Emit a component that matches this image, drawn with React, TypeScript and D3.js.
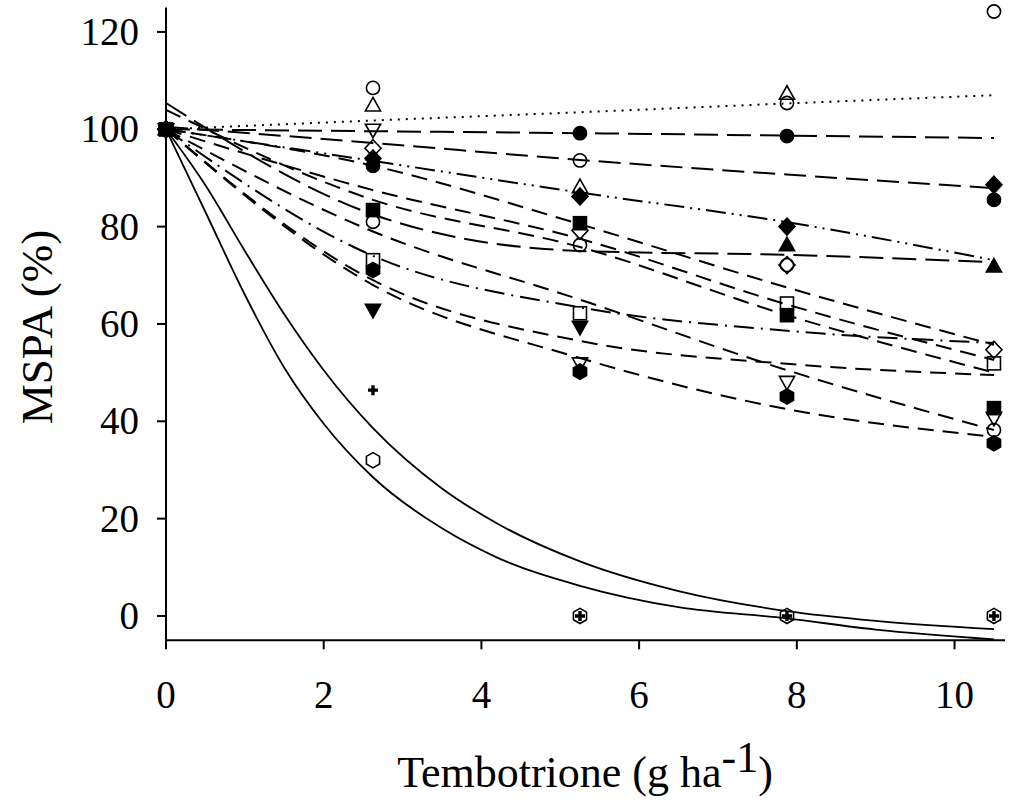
import React from 'react';
import * as d3 from 'd3';

// ---- data ----
const doses = [0, 2.625, 5.25, 7.875, 10.5];
const xTicks = [0, 2, 4, 6, 8, 10];
const yTicks = [0, 20, 40, 60, 80, 100, 120];

// observed values (null = not visible)
const obsOpenCircle = [100, 108.5, 93.6, 105.4, 124.2];
const obsOpenTriUp = [100, 104.9, 88.1, 107.3, null];
const obsFilledCircle = [100, 92.5, 99.2, 98.6, 85.5];
const obsFilledDiamond = [100, 94, 86.2, 80, 88.6];
const obsFilledTriUp = [100, null, null, 76.2, 71.8];
const obsOpenDiamond = [100, 96.1, 79.2, 72.1, 54.7];
const obsOpenSquare = [100, 73.1, 62.2, 64.2, 51.9];
const obsFilledSquare = [100, 83.4, 80.7, 61.8, 42.7];
const obsOpenCircle2 = [100, 81, 76.2, 72.1, 38.2];
const obsOpenTriDown = [100, 99.9, 51.9, 48.1, 40.7];
const obsFilledHex = [100, 71.1, 50.2, 45.1, 35.5];
const obsFilledTriDown = [100, 62.9, 59.4, null, null];
const obsOpenHex = [100, 32, 0, 0, 0];
const obsPlus = [100, 46.4, 0, 0, 0];

// fitted curves (at the doses)
const fitOpenCircle = [100, 101.8, 103.5, 105.3, 107];
const fitOpenTriUp = [100, 99.6, 99.2, 98.7, 98.2];
const fitFilledCircle = [100.5, 97.2, 93.7, 90.7, 87.9];
const fitFilledDiamond = [100, 93.5, 87.0, 80.9, 73.1];
const fitFilledTriUp = [105.4, 82.5, 75, 74.2, 72.7];
const fitOpenDiamond = [100, 92.5, 80.5, 67.5, 55.7];
const fitOpenSquare = [100, 74, 63.4, 58.6, 56.1];
const fitFilledSquare = [100, 87.5, 77.5, 64, 52.6];
const fitOpenCircle2 = [100, 79, 65, 50.5, 38.2];
const fitOpenTriDown = [104, 85.5, 75.8, 61.8, 50];
const fitFilledHex = [100, 68, 53, 42.5, 36.8];
const fitFilledTriDown = [100, 69, 56.5, 51.8, 49.5];
// solid curves, read at more doses
const fitDosesSolid = [0, 0.5, 1, 1.5, 2, 2.625, 3.5, 4.2, 5.25, 6.5, 7.875, 9, 10.5];
const fitOpenHex = [100, 83, 66, 51, 39.5, 28.5, 18, 12, 6.2, 1.8, -0.5, -2.8, -4.8];
const fitPlus = [100, 88.5, 75, 62, 50.5, 38.6, 26.2, 19, 11.2, 5.1, 1.0, -1, -2.7];

const xTitle = 'Tembotrione (g ha';
const xTitleSup = '-1';
const yTitle = 'MSPA (%)';

type Sym = 'circle' | 'triUp' | 'triDown' | 'square' | 'diamond' | 'hex' | 'plus';

const series: { sym: Sym; filled: boolean; obs: (number | null)[]; fx: number[]; fy: number[]; dash: string }[] = [
  { sym: 'circle', filled: false, obs: obsOpenCircle, fx: doses, fy: fitOpenCircle, dash: '2 6' },
  { sym: 'triUp', filled: false, obs: obsOpenTriUp, fx: doses, fy: fitOpenTriUp, dash: '24 9' },
  { sym: 'circle', filled: true, obs: obsFilledCircle, fx: doses, fy: fitFilledCircle, dash: '22 9' },
  { sym: 'diamond', filled: true, obs: obsFilledDiamond, fx: doses, fy: fitFilledDiamond, dash: '20 6 2 6 2 6' },
  { sym: 'triUp', filled: true, obs: obsFilledTriUp, fx: doses, fy: fitFilledTriUp, dash: '24 9' },
  { sym: 'diamond', filled: false, obs: obsOpenDiamond, fx: doses, fy: fitOpenDiamond, dash: '16 9' },
  { sym: 'square', filled: false, obs: obsOpenSquare, fx: doses, fy: fitOpenSquare, dash: '20 7 2 7' },
  { sym: 'square', filled: true, obs: obsFilledSquare, fx: doses, fy: fitFilledSquare, dash: '16 9' },
  { sym: 'circle', filled: false, obs: obsOpenCircle2, fx: doses, fy: fitOpenCircle2, dash: '16 9' },
  { sym: 'triDown', filled: false, obs: obsOpenTriDown, fx: doses, fy: fitOpenTriDown, dash: '16 9' },
  { sym: 'hex', filled: true, obs: obsFilledHex, fx: doses, fy: fitFilledHex, dash: '16 9' },
  { sym: 'triDown', filled: true, obs: obsFilledTriDown, fx: doses, fy: fitFilledTriDown, dash: '16 9' },
  { sym: 'hex', filled: false, obs: obsOpenHex, fx: fitDosesSolid, fy: fitOpenHex, dash: '' },
  { sym: 'plus', filled: true, obs: obsPlus, fx: fitDosesSolid, fy: fitPlus, dash: '' },
];

const W = 1010;
const H = 810;
const x = d3.scaleLinear().domain([0, 10.64]).range([166, 1005]);
const y = d3.scaleLinear().domain([-5, 125]).range([640.3, 7.6]);
const FONT = '"Liberation Serif", "Times New Roman", serif';

function Marker({ sym, filled, cx, cy }: { sym: Sym; filled: boolean; cx: number; cy: number }) {
  const fill = filled ? '#000' : 'none';
  const common = { fill, stroke: '#000', strokeWidth: 1.6 };
  const t = `translate(${cx},${cy})`;
  switch (sym) {
    case 'circle':
      return <circle cx={cx} cy={cy} r={6.6} {...common} />;
    case 'triUp':
      return <path transform={t} d="M0,-8 L7.6,5.5 L-7.6,5.5 Z" {...common} />;
    case 'triDown':
      return <path transform={t} d="M0,8 L7.6,-5.5 L-7.6,-5.5 Z" {...common} />;
    case 'square':
      return <rect x={cx - 6.5} y={cy - 6.5} width={13} height={13} {...common} />;
    case 'diamond':
      return <path transform={t} d="M0,-8.5 L8,0 L0,8.5 L-8,0 Z" {...common} />;
    case 'hex': {
      const pts = d3.range(6).map((k) => {
        const a = ((-90 + 60 * k) * Math.PI) / 180;
        return [7.6 * Math.cos(a), 7.6 * Math.sin(a)];
      });
      return <path transform={t} d={'M' + pts.map((p) => p.join(',')).join('L') + 'Z'} {...common} />;
    }
    case 'plus':
      return <path transform={t} d="M-5,0 L5,0 M0,-5 L0,5" fill="none" stroke="#000" strokeWidth={3.4} />;
  }
  return null;
}

export default function App() {
  const line = d3
    .line<[number, number]>()
    .x((d) => x(d[0]))
    .y((d) => y(d[1]))
    .curve(d3.curveMonotoneX);

  return (
    <svg width={W} height={H} style={{ position: 'absolute', left: 0, top: 0, background: '#fff' }} fontFamily={FONT}>
      <rect x={0} y={0} width={W} height={H} fill="#fff" />
      {/* fitted curves */}
      {series.map((s, i) => (
        <path
          key={'l' + i}
          d={line(s.fx.map((v, j) => [v, s.fy[j]] as [number, number])) || ''}
          fill="none"
          stroke="#000"
          strokeWidth={s.dash ? 2 : 1.8}
          strokeDasharray={s.dash || undefined}
        />
      ))}
      {/* observed points */}
      {series.map((s, i) =>
        s.obs.map((v, j) =>
          v === null ? null : <Marker key={'m' + i + '-' + j} sym={s.sym} filled={s.filled} cx={x(doses[j])} cy={y(v)} />
        )
      )}
      {/* axes */}
      <line x1={x(0)} x2={x(0)} y1={y(125)} y2={y(-5) + 8} stroke="#000" strokeWidth={2} />
      <line x1={x(0)} x2={x(10.64)} y1={y(-5)} y2={y(-5)} stroke="#000" strokeWidth={2} />
      {yTicks.map((t) => (
        <g key={'yt' + t}>
          <line x1={x(0) - 9} x2={x(0)} y1={y(t)} y2={y(t)} stroke="#000" strokeWidth={2} />
          <text x={139} y={y(t) + 13} textAnchor="end" fontSize={39}>
            {t}
          </text>
        </g>
      ))}
      {xTicks.map((t) => (
        <g key={'xt' + t}>
          <line x1={x(t)} x2={x(t)} y1={y(-5)} y2={y(-5) + 9} stroke="#000" strokeWidth={2} />
          <text x={x(t)} y={708} textAnchor="middle" fontSize={39}>
            {t}
          </text>
        </g>
      ))}
      <text transform="translate(52,327) rotate(-90)" textAnchor="middle" fontSize={45}>
        {yTitle}
      </text>
      <text x={585} y={787} textAnchor="middle" fontSize={44}>
        {xTitle}
        <tspan dy={-15}>{xTitleSup}</tspan>
        <tspan dy={15}>)</tspan>
      </text>
    </svg>
  );
}
